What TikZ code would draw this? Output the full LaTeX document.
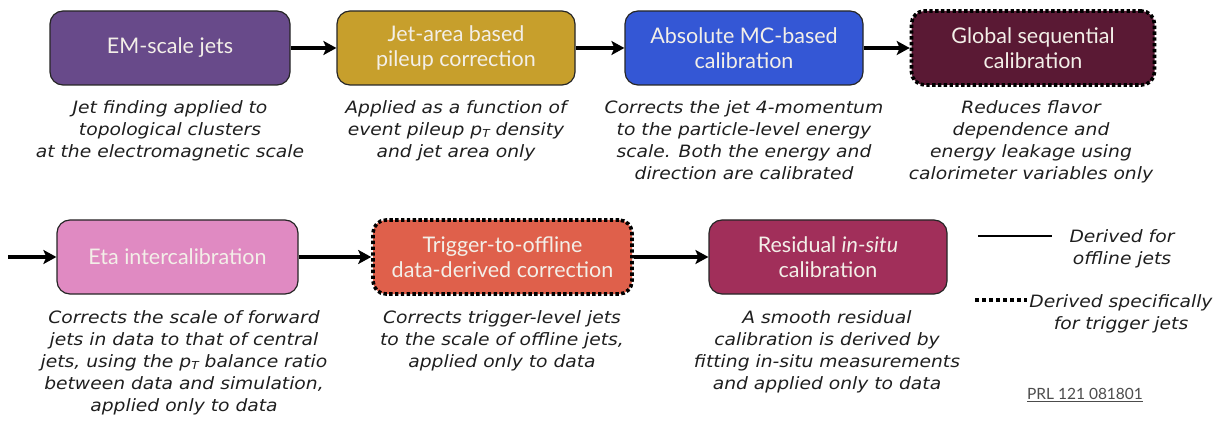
\documentclass[tikz,border=0pt]{standalone}
\usepackage{fontspec}
\setmainfont{DejaVu Sans}
\newfontfamily\descfont[FakeStretch=1.1]{DejaVu Sans}
\newfontfamily\boxfont{Lato}
\usetikzlibrary{arrows.meta}

\definecolor{cEM}{HTML}{684A8A}
\definecolor{cPU}{HTML}{C79F2C}
\definecolor{cMC}{HTML}{3457D5}
\definecolor{cGS}{HTML}{5A1934}
\definecolor{cEta}{HTML}{E08AC2}
\definecolor{cTrig}{HTML}{DF604B}
\definecolor{cRes}{HTML}{A12F5A}
\definecolor{boxtext}{HTML}{F3EFE8}
\definecolor{desctext}{HTML}{1E1E1E}

\newcommand{\pT}{p{\fontsize{11}{11}\selectfont\raisebox{-2.5pt}{T}}}

\tikzset{
  stage/.style={rounded corners=13pt, draw=black!85, line width=1.2pt,
    minimum height=74pt, inner sep=0pt, align=center, text=boxtext,
    font=\boxfont\fontsize{21.5}{25.5}\selectfont},
  trigstage/.style={stage, draw=black, line width=3.6pt,
    dash pattern=on 3.4pt off 2.4pt},
  flow/.style={line width=3.4pt, -{Stealth[length=13pt,width=14pt,inset=3pt]}},
  desc/.style={anchor=north, inner sep=0pt, align=center, text=desctext,
    font=\descfont\itshape\fontsize{17}{22}\selectfont},
  legline/.style={line width=2.2pt},
  legdots/.style={line width=4pt, dash pattern=on 4pt off 3pt},
}

\begin{document}
\begin{tikzpicture}[x=1pt,y=-1pt]
\useasboundingbox (0,0) rectangle (1214,430);

% first row of calibration stages
\node[stage, fill=cEM, minimum width=240pt] (em) at (170,48) {EM-scale jets};
\node[stage, fill=cPU, minimum width=238pt] (pu) at (456,48) {Jet-area based\\pileup correction};
\node[stage, fill=cMC, minimum width=238pt] (mc) at (744,48) {Absolute MC-based\\calibration};
\node[trigstage, fill=cGS, minimum width=243pt] (gs) at (1033,48) {Global sequential\\calibration};

\draw[flow] (em) -- (pu);
\draw[flow] (pu) -- (mc);
\draw[flow] (mc) -- (gs);

% second row of calibration stages
\coordinate (cont) at (8,257);
\node[stage, fill=cEta, minimum width=241pt] (eta) at (177.5,257) {Eta intercalibration};
\node[trigstage, fill=cTrig, minimum width=259pt] (trig) at (502.5,257) {Trigger-to-offline\\data-derived correction};
\node[stage, fill=cRes, minimum width=238pt] (res) at (828,257) {Residual \textit{in-situ}\\calibration};

\draw[flow] (cont) -- (eta);
\draw[flow] (eta) -- (trig);
\draw[flow] (trig) -- (res);

% descriptions
\node[desc] (d1) at (170,100) {Jet finding applied to\\topological clusters\\at the electromagnetic scale};
\node[desc] (d2) at (456,100) {Applied as a function of\\event pileup \pT\ density\\and jet area only};
\node[desc] (d3) at (744,100) {Corrects the jet 4-momentum\\to the particle-level energy\\scale. Both the energy and\\direction are calibrated};
\node[desc] (d4) at (1031,100) {Reduces flavor\\dependence and\\energy leakage using\\calorimeter variables only};
\node[desc] (d5) at (184,310) {Corrects the scale of forward\\jets in data to that of central\\jets, using the \pT\ balance ratio\\between data and simulation,\\applied only to data};
\node[desc] (d6) at (502,310) {Corrects trigger-level jets\\to the scale of offline jets,\\applied only to data};
\node[desc] (d7) at (827,310) {A smooth residual\\calibration is derived by\\fitting in-situ measurements\\and applied only to data};

% legend
\coordinate (la) at (978,236);
\coordinate (lb) at (1052,236);
\draw[legline] (la) -- (lb);
\node[desc] (l1) at (1122,229) {Derived for\\offline jets};
\coordinate (lc) at (975,300);
\coordinate (ld) at (1027,300);
\draw[legdots] (lc) -- (ld);
\node[desc] (l2) at (1121,294) {Derived specifically\\for trigger jets};

% reference
\node[font=\boxfont\fontsize{15.5}{18}\selectfont, text=black!70, inner sep=0pt] (ref) at (1085,395) {\underline{PRL 121 081801}};
\end{tikzpicture}
\end{document}
